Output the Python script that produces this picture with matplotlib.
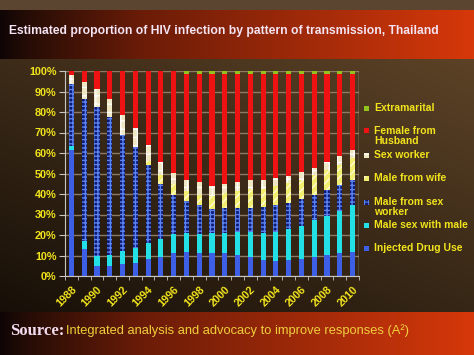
import matplotlib
matplotlib.use('Agg')
import matplotlib.pyplot as plt
from matplotlib.patches import Rectangle
import numpy as np

# shares in percent (1988 - 2010)
years = list(range(1988, 2011))
idu = [61.3, 13.0, 5.0, 5.0, 6.0, 6.5, 8.2, 9.5, 11.2, 11.9, 11.4, 11.4,
       11.0, 10.3, 9.1, 7.8, 7.3, 7.8, 8.2, 9.5, 10.3, 11.0, 11.9]
msm = [2.3, 4.0, 4.8, 5.3, 6.4, 7.4, 8.1, 8.5, 9.4, 9.0, 9.2, 9.5,
       9.9, 11.2, 12.4, 13.4, 14.4, 15.2, 16.4, 17.6, 19.1, 20.5, 22.8]
male_sw = [29.9, 69.5, 72.7, 67.3, 56.3, 49.1, 37.9, 27.0, 19.0, 15.5, 14.1, 11.7,
           12.2, 11.9, 11.9, 12.7, 12.7, 12.6, 12.9, 12.2, 12.4, 13.0, 12.3]
male_wife = [0, 0, 0, 0, 0, 0, 1.8, 4.4, 5.4, 4.9, 4.9, 6.2,
             7.4, 7.9, 9.0, 8.5, 9.3, 9.7, 9.5, 10.1, 10.1, 9.8, 10.6]
sex_worker = [4.4, 8.1, 8.9, 8.5, 9.6, 9.3, 8.1, 6.1, 5.2, 5.7, 6.1, 4.9,
              4.5, 4.5, 4.3, 4.3, 4.1, 3.6, 3.6, 3.3, 3.6, 4.1, 3.7]
female_husband = [2.1, 5.4, 8.6, 13.9, 21.7, 27.7, 35.9, 44.5, 49.8, 51.5, 52.8, 54.8,
                  53.5, 52.7, 51.8, 51.8, 50.7, 49.6, 47.9, 45.8, 43.0, 40.1, 37.2]
extramarital = [0, 0, 0, 0, 0, 0, 0, 0, 0, 1.5, 1.5, 1.5,
                1.5, 1.5, 1.5, 1.5, 1.5, 1.5, 1.5, 1.5, 1.5, 1.5, 1.5]

# (label, values, style, hatch line width)
series = [
    ('Injected Drug Use', idu, dict(facecolor='#3c5fe6'), 1.0),
    ('Male sex with male', msm, dict(facecolor='#22e0e6'), 1.0),
    ('Male from sex\nworker', male_sw,
     dict(facecolor='#0e1a70', edgecolor='#5a82f0', hatch='++++'), 1.0),
    ('Male from wife', male_wife,
     dict(facecolor='#f2ee70', edgecolor='#fffbe0', hatch='////'), 0.9),
    ('Sex worker', sex_worker,
     dict(facecolor='#efe6c4', edgecolor='#ffffff', hatch='++'), 0.9),
    ('Female from\nHusband', female_husband, dict(facecolor='#ee1212'), 1.0),
    ('Extramarital', extramarital, dict(facecolor='#92c21e'), 1.0),
]

W, H = 474, 355
fig = plt.figure(figsize=(W / 100, H / 100), dpi=100)

# background bands
bg = fig.add_axes([0, 0, 1, 1], zorder=-10)
bg.set_xlim(0, W)
bg.set_ylim(H, 0)
bg.axis('off')
xx = np.linspace(0, 1, W)
band = np.zeros((1, W, 3))
band[0, :, 0] = np.interp(xx, [0, 0.06, 0.3, 1], [0.06, 0.15, 0.42, 0.84])
band[0, :, 1] = np.interp(xx, [0, 0.06, 0.3, 1], [0.02, 0.05, 0.11, 0.22])
band[0, :, 2] = np.interp(xx, [0, 0.06, 0.3, 1], [0.02, 0.02, 0.03, 0.04])
yy = np.linspace(0, 1, 100)[:, None]
xg = np.linspace(0, 1, 100)[None, :]
t = np.clip(0.55 * (1 - yy) + 0.45 * xg, 0, 1)
mid = np.dstack([0.09 + 0.27 * t, 0.06 + 0.20 * t, 0.03 + 0.12 * t])
bg.imshow(np.array([[[0.36, 0.27, 0.19]]]), extent=(0, W, 10, 0), aspect='auto')
bg.imshow(band, extent=(0, W, 59, 10), aspect='auto')
bg.imshow(mid, extent=(0, W, 312, 59), aspect='auto')
bg.imshow(band, extent=(0, W, H, 312), aspect='auto')

yellow = '#f2e41c'
ax = fig.add_axes([65 / W, 1 - 276 / H, 294 / W, 205 / H])
ax.set_facecolor('none')
bottom = np.zeros(len(years))
for label, vals, style, hlw in series:
    plt.rcParams['hatch.linewidth'] = hlw
    v = np.array(vals) / 100.0
    ax.bar(years, v, width=0.4, bottom=bottom, linewidth=0, **style)
    bottom += v

ax.set_xlim(1987.5, 2010.5)
ax.set_ylim(0, 1)
ax.set_yticks(np.arange(0, 1.01, 0.1))
ax.set_yticklabels(['%d%%' % p for p in range(0, 101, 10)])
ax.set_xticks(years[::2])
ax.set_xticklabels([str(y) for y in years[::2]], rotation=45, ha='right',
                   rotation_mode='anchor')
ax.set_xticks(np.arange(1987.5, 2011, 1), minor=True)
ax.yaxis.grid(True, color='#8c7a64', linewidth=1)
ax.set_axisbelow(True)
for s in ['top', 'right']:
    ax.spines[s].set_visible(False)
for s in ['left', 'bottom']:
    ax.spines[s].set_color('#c8c4c0')
ax.tick_params(axis='y', colors='#c8c4c0', labelcolor=yellow, length=4, direction='out', pad=2)
ax.tick_params(axis='x', which='major', length=0, labelcolor=yellow, pad=6)
ax.tick_params(axis='x', which='minor', length=3, color='#c8c4c0')
for lab in ax.get_yticklabels() + ax.get_xticklabels():
    lab.set_family('Liberation Sans')
    lab.set_fontweight('bold')
    lab.set_fontsize(7.8)
# right-hand frame line
ax.axvline(2010.5, color='#c8c4c0', linewidth=1)

# legend drawn at the right
legend_y = {'Extramarital': 108, 'Female from\nHusband': 136, 'Sex worker': 155,
            'Male from wife': 178, 'Male from sex\nworker': 207,
            'Male sex with male': 225, 'Injected Drug Use': 248}
for label, vals, style, hlw in series:
    plt.rcParams['hatch.linewidth'] = 0.8
    y = legend_y[label]
    first = y - 5 if '\n' in label else y
    fig.patches.append(Rectangle((364 / W, 1 - (first + 2.5) / H), 5 / W, 5 / H,
                                 transform=fig.transFigure, linewidth=0, **style))
    fig.text(374 / W, 1 - y / H, label, color=yellow, fontsize=7.5,
             family='Liberation Sans', fontweight='bold', va='center',
             linespacing=1.05)

fig.text(9 / W, 1 - 31 / H,
         'Estimated proportion of HIV infection by pattern of transmission, Thailand',
         color='#f4e4f4', fontsize=8.7, fontweight='bold',
         family='Liberation Sans', va='center')
fig.text(10 / W, 1 - 331 / H, 'Source:', color='#f4dcf0', fontsize=12,
         fontweight='bold', family='Liberation Serif', va='center')
fig.text(66 / W, 1 - 331 / H, 'Integrated analysis and advocacy to improve responses (A\u00b2)',
         color='#f0cf3c', fontsize=9.3, family='Liberation Sans', va='center')

fig.savefig('out.png', dpi=100)
